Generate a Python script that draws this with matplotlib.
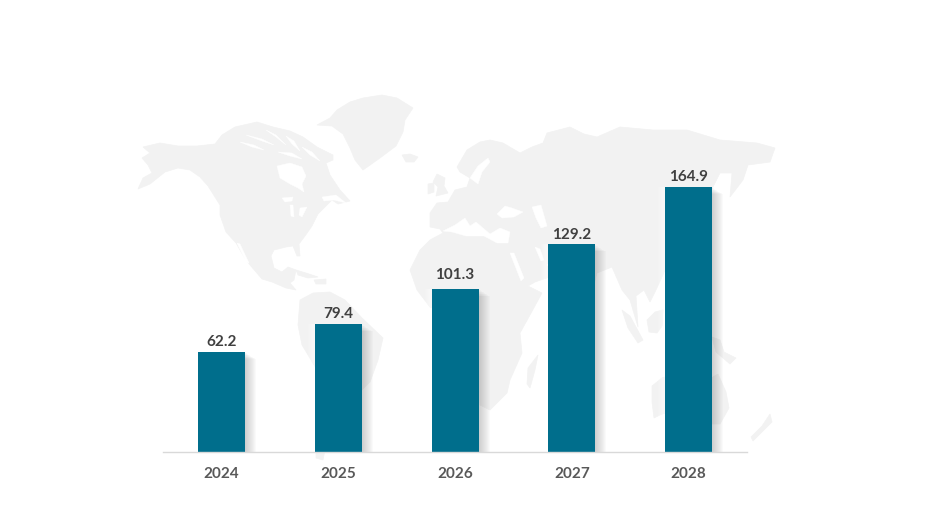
import matplotlib
matplotlib.use("Agg")
import matplotlib.pyplot as plt
from matplotlib.patches import Polygon

years = ["2024", "2025", "2026", "2027", "2028"]
values = [62.2, 79.4, 101.3, 129.2, 164.9]

W, H = 925, 521
BAR_COLOR = "#006e8c"
MAP_COLOR = "#f2f2f2"

# background map outlines, picture pixels
land = [
    # north america with the arctic islands
    [(143,147),(160,143),(178,146),(197,146),(215,144),(222,135),(235,127),(257,122),(273,127),(290,131),(303,137),(317,147),(333,155),(333,160),(326,163),(330,175),(340,190),(350,201),(338,204),(332,200),(326,206),(318,214),(312,226),(305,236),(299,244),(300,256),(297,256),(293,246),(286,247),(274,250),(271,256),(274,268),(282,272),(288,267),(296,270),(294,280),(290,283),(296,290),(286,288),(272,282),(262,279),(250,265),(243,255),(236,243),(226,232),(220,215),(220,205),(208,186),(200,177),(190,170),(178,168),(165,172),(150,184),(138,189),(143,178),(152,173),(148,165),(142,158),(150,153)],
    # greenland
    [(317,125),(330,118),(337,110),(350,102),(363,98),(382,95),(397,98),(413,108),(405,120),(403,132),(396,146),(380,158),(363,170),(355,160),(350,148),(343,134),(332,126)],
    # iceland
    [(402,155),(410,154),(418,157),(414,162),(406,162)],
    # caribbean
    [(296,270),(306,273),(318,277),(308,278),(298,275)],
    [(314,280),(326,279),(326,284),(316,284)],
    # south america
    [(300,300),(313,293),(330,292),(345,300),(362,318),(383,338),(378,360),(370,382),(360,392),(350,410),(335,430),(325,450),(323,460),(316,458),(316,440),(318,400),(316,368),(302,345),(298,325)],
    # uk and ireland
    [(437,174),(445,178),(444,186),(448,193),(436,196),(438,187),(433,182)],
    [(428,184),(434,183),(434,192),(428,194)],
    # eurasia and africa
    [(430,213),(437,203),(448,202),(455,190),(467,187),(470,178),(460,172),(457,167),(467,150),(480,142),(490,140),(503,143),(520,153),(532,147),(543,143),(547,133),(570,127),(584,134),(597,137),(620,127),(653,130),(687,130),(720,140),(757,143),(775,148),(770,162),(748,165),(743,180),(730,197),(732,173),(720,173),(713,187),(706,200),(690,246),(670,262),(664,272),(656,290),(650,302),(644,290),(636,296),(638,327),(630,300),(622,290),(612,267),(597,273),(590,300),(582,320),(575,300),(570,278),(558,268),(552,262),(546,264),(552,276),(535,282),(528,286),(542,293),(530,315),(520,333),(522,353),(510,380),(507,393),(490,410),(480,405),(476,340),(470,318),(454,316),(430,307),(417,290),(410,270),(420,250),(430,240),(443,233),(440,229),(430,227)],
    # madagascar
    [(538,355),(535,370),(530,388),(527,384),(528,368)],
    # sumatra, borneo and the far east
    [(622,310),(630,316),(643,340),(638,343),(628,328)],
    [(647,320),(655,312),(663,310),(662,326),(657,333),(649,332)],
    [(712,337),(720,340),(724,352),(736,358),(730,364),(716,352)],
    # australia
    [(652,386),(662,378),(676,374),(690,374),(700,370),(708,380),(718,374),(726,392),(729,408),(720,424),(706,424),(694,414),(680,410),(662,414),(654,418),(652,402)],
    # new zealand
    [(770,414),(772,422),(762,432),(753,441),(751,437),(762,426)],
]

water = [
    # hudson bay
    [(277,166),(290,163),(302,167),(306,176),(302,184),(304,192),(298,188),(290,184),(280,178)],
    # arctic channels
    [(246,135),(262,139),(274,145),(262,141)],
    [(266,130),(276,135),(286,145),(276,137)],
    [(240,142),(254,145),(264,150),(252,147)],
    [(286,136),(294,141),(300,151),(292,144)],
    [(278,152),(292,153),(302,159),(290,156)],
    [(302,147),(312,152),(320,161),(310,155)],
    # great lakes
    [(282,198),(293,197),(292,201),(285,202)],
    [(290,205),(293,205),(294,217),(291,216)],
    [(300,208),(307,207),(302,217),(299,215)],
    # gulf of st lawrence
    [(322,197),(336,195),(346,203),(334,200),(324,201)],
    # gulf of california
    [(237,243),(240,244),(249,263),(246,262)],
    # baltic
    [(470,178),(478,166),(488,158),(490,162),(482,172),(478,184)],
    # mediterranean
    [(443,231),(455,225),(465,218),(470,226),(476,222),(490,234),(500,228),(510,232),(508,243),(497,243),(484,236),(466,236),(452,232)],
    # black sea
    [(497,214),(505,206),(512,208),(523,212),(514,217),(502,218)],
    # caspian
    [(532,207),(541,205),(547,226),(541,228),(536,218)],
    # red sea
    [(510,253),(514,253),(524,278),(521,281)],
    # persian gulf
    [(535,247),(540,249),(544,260),(541,261)],
]

fig = plt.figure(figsize=(W / 100, H / 100), dpi=100)

bg = fig.add_axes([0, 0, 1, 1], zorder=0)
bg.set_xlim(0, W)
bg.set_ylim(H, 0)
bg.axis("off")
for pts in land:
    bg.add_patch(Polygon(pts, closed=True, fc=MAP_COLOR, ec=MAP_COLOR, lw=0.5))
for pts in water:
    bg.add_patch(Polygon(pts, closed=True, fc="white", ec="white", lw=0.3))

# axes box: x 163..747 px, baseline at y=452, top at y=100
ax = fig.add_axes([163 / W, 1 - 452 / H, 584 / W, 352 / H], zorder=1)
ax.patch.set_alpha(0)
ax.set_xlim(-0.5, 4.5)
ax.set_ylim(0, 352 / 1.607)

x = list(range(len(years)))
px = 5 / 584
bar_w = 47 * px

# soft shadow fading out to the right of each bar, tops pulled in so it has no hard edge
for grow in range(1, 12):
    ax.bar([i + grow * px / 2 for i in x], [v - grow * 0.4 for v in values],
           width=bar_w + grow * px, color="#444444", alpha=0.024, lw=0, zorder=1)
# faint white haze on the left, washes out the map next to a bar
for grow in range(1, 8):
    ax.bar([i - grow * px / 2 for i in x], values, width=bar_w + grow * px,
           color="white", alpha=0.12, lw=0, zorder=0.5)

ax.bar(x, values, width=bar_w, color=BAR_COLOR, lw=0, zorder=2)

# the 2026 label sits a little higher than the rest in the original
label_nudge = [0, 0.7, 3, 0, 0]
for i, v, dy in zip(x, values, label_nudge):
    ax.annotate(f"{v:.1f}", (i, v), xytext=(0, 2 + dy), textcoords="offset points",
                ha="center", va="bottom", fontsize=11, fontweight="bold",
                family="Lato", color="#404040")

for s in ("top", "left", "right"):
    ax.spines[s].set_visible(False)
ax.spines["bottom"].set_color("#d9d9d9")
ax.spines["bottom"].set_linewidth(1)
ax.set_yticks([])
ax.set_xticks(x)
ax.set_xticklabels(years, fontsize=11, fontweight="bold", family="Lato", color="#595959")
ax.tick_params(axis="x", length=0, pad=11)

fig.savefig("out.png", dpi=100)
